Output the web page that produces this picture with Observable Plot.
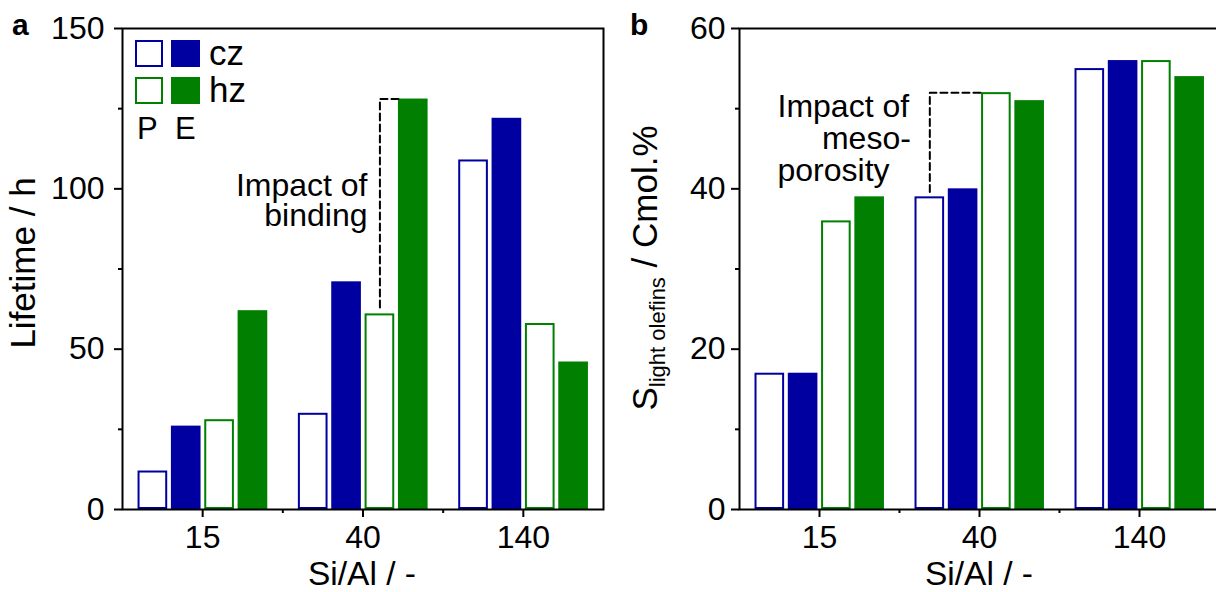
<!DOCTYPE html>
<html><head><meta charset="utf-8">
<script src="https://cdn.jsdelivr.net/npm/d3@7"></script>
<script src="https://cdn.jsdelivr.net/npm/@observablehq/plot@0.6"></script>
<style>
html,body{margin:0;padding:0;background:#fff;}
#wrap{position:relative;width:1216px;height:592px;overflow:hidden;font-family:"Liberation Sans",Arial,sans-serif;}
#wrap > svg{position:absolute;top:0;}
</style></head><body><div id="wrap"></div>
<script>
// ---- data ----
const siAl = ["15", "40", "140"];
const seriesNames = ["P cz", "E cz", "P hz", "E hz"];
const seriesColors = ["#0000a0", "#0000a0", "#007f00", "#007f00"];
const seriesFilled = [false, true, false, true];

// panel a: lifetime / h
const lifetimePcz = [12, 30, 109];
const lifetimeEcz = [26, 71, 122];
const lifetimePhz = [28, 61, 58];
const lifetimeEhz = [62, 128, 46];
const lifetimeTicks = [0, 50, 100, 150];
const lifetimeMinor = [25, 75, 125];

// panel b: selectivity to light olefins / Cmol.%
const selPcz = [17, 39, 55];
const selEcz = [17, 40, 56];
const selPhz = [36, 52, 56];
const selEhz = [39, 51, 54];
const selTicks = [0, 20, 40, 60];
const selMinor = [10, 30, 50];

// annotations (data coordinates)
const annoA = [{t: "Impact of\nbinding", x: 1.528, y: 104.4, a: "end", lh: 0.94}];
const annoB = [{t: "Impact of\n\u00a0\u00a0\u00a0\u00a0\u00a0meso-\nporosity", x: 0.2375, y: 51.85, a: "start", lh: 1.0}];

// ---- layout of grouped bars inside a category slot ----
const X0 = 0.097, STEP = 0.208, BW = 0.185;
const barX1 = (g, s) => g + X0 + s * STEP;
const barCenter = (g, s) => barX1(g, s) + BW / 2;

const dashA = [
  {x: barCenter(1, 2), y: 63}, {x: barCenter(1, 2), y: lifetimeEhz[1]}, {x: barX1(1, 3), y: lifetimeEhz[1]}
];
const dashB = [
  {x: barCenter(1, 0), y: 39.6}, {x: barCenter(1, 0), y: selPhz[1]}, {x: barX1(1, 2), y: selPhz[1]}
];

const FONT = '"Liberation Sans", Arial, sans-serif';

function panel({values, yMax, ticks, minor, marginLeft, marginRight, width, left, tickPad, anno, dash}) {
  const marks = [];
  values.forEach((arr, s) => {
    const rows = arr.map((v, g) => ({g, s, v}));
    marks.push(Plot.rectY(rows, {
      x1: d => barX1(d.g, d.s), x2: d => barX1(d.g, d.s) + BW, y: "v",
      fill: seriesFilled[s] ? seriesColors[s] : "white",
      stroke: seriesColors[s], strokeWidth: 2, inset: 1
    }));
  });
  marks.push(Plot.line(dash, {x: "x", y: "y", stroke: "black", strokeWidth: 2, strokeDasharray: "7,4"}));
  for (const d of anno) {
    marks.push(Plot.text([d], {x: "x", y: "y", text: "t", textAnchor: d.a, lineHeight: d.lh, fontSize: 32, fill: "black", lineAnchor: "top"}));
  }
  marks.push(Plot.axisY({ticks, tickSize: 8, tickPadding: tickPad, fontSize: 32, strokeWidth: 2, label: null, tickFormat: d => String(d)}));
  marks.push(Plot.axisY({ticks: minor, tickSize: 4, strokeWidth: 2, label: null, tickFormat: () => ""}));
  marks.push(Plot.axisX({anchor: "bottom", ticks: [0.5, 1.5, 2.5], tickSize: 8, tickPadding: 8, fontSize: 32, strokeWidth: 2, label: null, tickFormat: d => siAl[Math.floor(d)]}));
  marks.push(Plot.axisX({anchor: "bottom", ticks: [1, 2], tickSize: 4, strokeWidth: 2, label: null, tickFormat: () => ""}));
  marks.push(Plot.frame({stroke: "black", strokeWidth: 2}));
  const svg = Plot.plot({
    width, height: 592, marginLeft, marginRight, marginTop: 28, marginBottom: 83,
    x: {type: "linear", domain: [0, 3]},
    y: {domain: [0, yMax]},
    style: {fontFamily: FONT, fontSize: "32px", color: "black", background: "transparent", overflow: "visible"},
    marks
  });
  svg.style.left = left + "px";
  return svg;
}

const wrap = document.getElementById("wrap");
wrap.appendChild(panel({
  values: [lifetimePcz, lifetimeEcz, lifetimePhz, lifetimeEhz], yMax: 150,
  ticks: lifetimeTicks, minor: lifetimeMinor, marginLeft: 122, marginRight: 5, width: 608, left: 0, tickPad: 10,
  anno: annoA, dash: dashA
}));
wrap.appendChild(panel({
  values: [selPcz, selEcz, selPhz, selEhz], yMax: 60,
  ticks: selTicks, minor: selMinor, marginLeft: 131, marginRight: 0, width: 611, left: 608, tickPad: 6,
  anno: annoB, dash: dashB
}));

// ---- overlay: panel letters, axis titles, legend ----
const ns = "http://www.w3.org/2000/svg";
const ov = document.createElementNS(ns, "svg");
ov.setAttribute("width", 1216); ov.setAttribute("height", 592);
ov.style.left = "0px"; ov.style.fontFamily = FONT;
ov.innerHTML = `
  <text x="12" y="35" font-size="30" font-weight="bold">a</text>
  <text x="630" y="35" font-size="30" font-weight="bold">b</text>
  <text transform="translate(35,263) rotate(-90)" text-anchor="middle" font-size="35">Lifetime / h</text>
  <text transform="translate(657,268) rotate(-90)" text-anchor="middle" font-size="35">S<tspan font-size="22" dy="8">light olefins</tspan><tspan dy="-8"> / Cmol.%</tspan></text>
  <text x="362" y="585" text-anchor="middle" font-size="33.5">Si/Al / -</text>
  <text x="979" y="585" text-anchor="middle" font-size="33.5">Si/Al / -</text>
  <rect x="136" y="41" width="26" height="25" fill="white" stroke="${seriesColors[0]}" stroke-width="2"/>
  <rect x="171" y="40" width="29" height="27" fill="${seriesColors[1]}"/>
  <rect x="136" y="78" width="26" height="25" fill="white" stroke="${seriesColors[2]}" stroke-width="2"/>
  <rect x="171" y="77" width="29" height="27" fill="${seriesColors[3]}"/>
  <text x="209" y="65" font-size="35">cz</text>
  <text x="209" y="102" font-size="35">hz</text>
  <text x="137" y="139" font-size="31">P</text>
  <text x="175" y="139" font-size="31">E</text>
`;
wrap.appendChild(ov);
</script>
</body></html>
